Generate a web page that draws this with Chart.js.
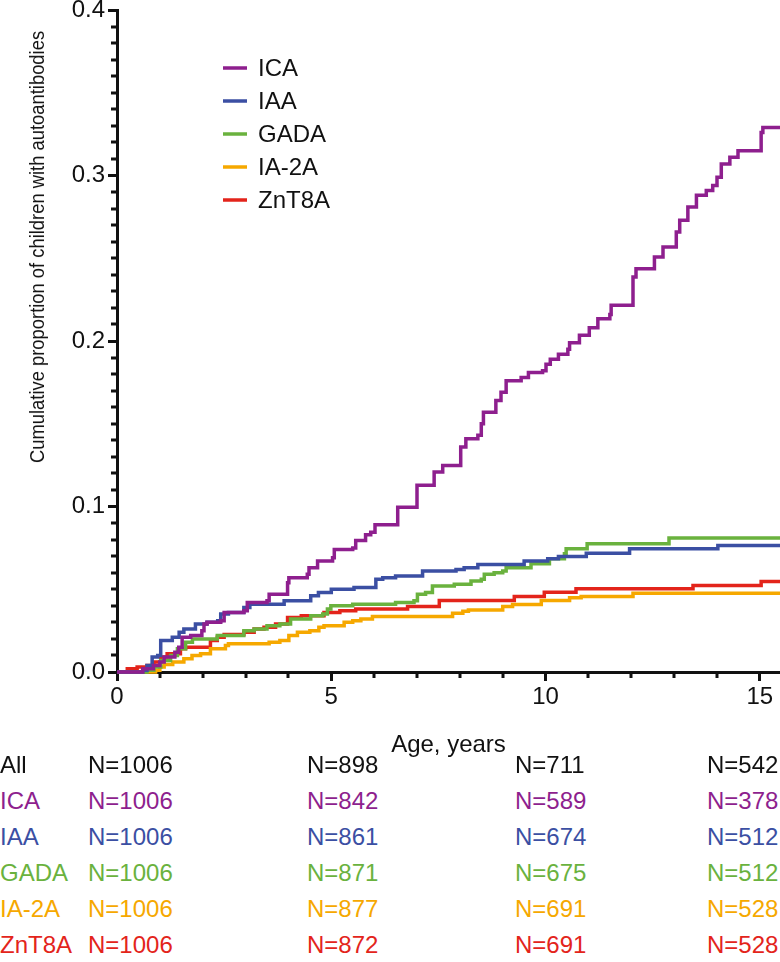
<!DOCTYPE html>
<html>
<head>
<meta charset="utf-8">
<script src="https://cdn.jsdelivr.net/npm/chart.js@4.4.0/dist/chart.umd.min.js"></script>
<style>
body{margin:0;background:#fff;font-family:"Liberation Sans",Arial,sans-serif;color:#111;}
#wrap{position:relative;width:780px;height:962px;overflow:hidden;}
#box{position:absolute;left:0;top:0;width:780px;height:760px;}
#ytitle{position:absolute;left:37px;top:247px;transform:translate(-50%,-50%) rotate(-90deg) scaleX(0.875);white-space:nowrap;font-size:21px;}
.cell{position:absolute;font-size:24px;white-space:nowrap;transform:translateY(-50%);line-height:1;}
</style>
</head>
<body>
<div id="wrap">
  <div id="box"><canvas id="kmChart"></canvas></div>
  <div id="ytitle">Cumulative proportion of children with autoantibodies</div>
  <div id="riskTable"></div>
</div>
<script>
// age (years), cumulative proportion
const ica = [[0,0],[0.6,0.002],[0.85,0.004],[1.0,0.006],[1.1,0.009],[1.35,0.012],[1.44,0.015],[1.52,0.021],[1.72,0.022],[1.98,0.025],[2.03,0.029],[2.1,0.030],[2.42,0.031],[2.5,0.036],[2.96,0.037],[3.04,0.042],[3.5,0.043],[3.55,0.047],[3.98,0.054],[4.01,0.057],[4.44,0.059],[4.48,0.063],[4.68,0.067],[5.03,0.069],[5.07,0.074],[5.5,0.075],[5.57,0.0795],[5.8,0.083],[5.92,0.0845],[6.02,0.089],[6.55,0.0996],[7.0,0.1128],[7.4,0.1208],[7.6,0.1248],[8.02,0.136],[8.14,0.141],[8.42,0.143],[8.5,0.15],[8.55,0.157],[8.84,0.164],[8.96,0.169],[9.08,0.176],[9.43,0.178],[9.6,0.181],[9.93,0.182],[10.01,0.186],[10.11,0.189],[10.3,0.192],[10.52,0.195],[10.56,0.199],[10.79,0.2035],[11.02,0.208],[11.22,0.2135],[11.5,0.216],[11.53,0.2216],[12.04,0.2387],[12.11,0.2437],[12.54,0.2508],[12.74,0.2568],[13.05,0.2659],[13.13,0.273],[13.32,0.281],[13.52,0.288],[13.75,0.291],[13.9,0.294],[14.0,0.299],[14.1,0.307],[14.3,0.311],[14.49,0.315],[15.03,0.326],[15.07,0.329],[15.47,0.329]];
const iaa = [[0,0],[0.6,0.001],[0.7,0.004],[0.82,0.009],[0.95,0.010],[1.02,0.019],[1.29,0.021],[1.45,0.024],[1.56,0.026],[1.83,0.029],[2.1,0.030],[2.35,0.031],[2.42,0.035],[2.6,0.036],[2.96,0.039],[3.1,0.041],[3.9,0.043],[4.52,0.046],[4.7,0.048],[5.0,0.050],[5.53,0.051],[6.04,0.056],[6.2,0.057],[6.5,0.058],[7.13,0.061],[7.91,0.062],[8.1,0.063],[8.42,0.065],[9.5,0.067],[10.05,0.0684],[10.3,0.0698],[10.95,0.0718],[11.96,0.0745],[14.02,0.0765],[15.47,0.0765]];
const gada = [[0,0],[0.7,0.001],[0.86,0.003],[1.02,0.007],[1.25,0.010],[1.41,0.014],[1.6,0.018],[1.76,0.020],[2.34,0.022],[2.96,0.025],[3.2,0.026],[3.5,0.028],[3.8,0.029],[4.05,0.032],[4.52,0.034],[4.8,0.035],[4.91,0.038],[4.99,0.040],[5.5,0.041],[6.5,0.042],[6.93,0.043],[7.01,0.047],[7.2,0.048],[7.36,0.052],[7.87,0.053],[8.26,0.055],[8.5,0.056],[8.57,0.059],[8.8,0.060],[9.0,0.061],[9.08,0.063],[9.66,0.0654],[10.09,0.0684],[10.44,0.0715],[10.48,0.0745],[10.97,0.0775],[12.88,0.081],[15.47,0.081]];
const ia2a = [[0,0],[0.9,0.001],[1.0,0.003],[1.1,0.0045],[1.3,0.006],[1.56,0.008],[1.75,0.010],[1.95,0.011],[2.18,0.014],[2.53,0.016],[2.6,0.017],[3.55,0.018],[3.8,0.019],[4.01,0.022],[4.21,0.024],[4.5,0.025],[4.71,0.027],[4.83,0.028],[5.3,0.030],[5.5,0.031],[5.69,0.032],[5.96,0.0335],[7.83,0.0355],[8.07,0.0367],[8.2,0.0375],[9.0,0.0396],[9.23,0.0408],[9.9,0.0432],[10.56,0.0448],[10.83,0.0456],[12.04,0.0476],[15.47,0.0476]];
const znt8a = [[0,0],[0.24,0.002],[0.47,0.003],[0.7,0.004],[0.86,0.006],[1.02,0.009],[1.17,0.011],[1.48,0.014],[1.6,0.015],[2.18,0.019],[2.34,0.021],[2.5,0.0227],[2.96,0.024],[3.2,0.026],[3.43,0.027],[3.7,0.029],[3.98,0.033],[4.3,0.034],[4.83,0.036],[5.2,0.037],[5.57,0.038],[6.78,0.0396],[7.52,0.0432],[9.27,0.0456],[9.97,0.0482],[10.71,0.0503],[13.44,0.0523],[15.03,0.0547],[15.47,0.0547]];

const seriesNames = ['ICA', 'IAA', 'GADA', 'IA-2A', 'ZnT8A'];
const seriesColors = ['#8E1F8E', '#3B4FA3', '#6AB23E', '#F6A800', '#E3241B'];

// numbers at risk at 0, 5, 10, 15 years
const riskLabels = ['All', 'ICA', 'IAA', 'GADA', 'IA-2A', 'ZnT8A'];
const nAll = [1006, 898, 711, 542];
const nIca = [1006, 842, 589, 378];
const nIaa = [1006, 861, 674, 512];
const nGada = [1006, 871, 675, 512];
const nIa2a = [1006, 877, 691, 528];
const nZnt8a = [1006, 872, 691, 528];

const minorTicks = {
    id: 'minorTicks',
    afterDraw(chart) {
        const ctx = chart.ctx, xs = chart.scales.x, ys = chart.scales.y, a = chart.chartArea;
        ctx.save();
        ctx.strokeStyle = '#111';
        ctx.lineWidth = 3;
        for (let i = 1; i < 40; i++) {
            if (i % 10 === 0) continue;
            const py = Math.round(ys.getPixelForValue(i / 100));
            ctx.beginPath(); ctx.moveTo(a.left - 6, py); ctx.lineTo(a.left, py); ctx.stroke();
        }
        for (let i = 1; i <= 15; i++) {
            if (i % 5 === 0) continue;
            const px = Math.round(xs.getPixelForValue(i));
            ctx.beginPath(); ctx.moveTo(px, a.bottom); ctx.lineTo(px, a.bottom + 6); ctx.stroke();
        }
        ctx.restore();
    }
};

const insideLegend = {
    id: 'insideLegend',
    afterDraw(chart) {
        const ctx = chart.ctx;
        ctx.save();
        ctx.font = '24px "Liberation Sans", Arial, sans-serif';
        ctx.textBaseline = 'middle';
        chart.data.datasets.forEach(function(ds, i) {
            const y = 68 + i * 33;
            ctx.strokeStyle = ds.borderColor;
            ctx.lineWidth = 3.5;
            ctx.beginPath(); ctx.moveTo(223, y); ctx.lineTo(247, y); ctx.stroke();
            ctx.fillStyle = '#111';
            ctx.fillText(ds.label, 258, y + 1);
        });
        ctx.restore();
    }
};

const allSeries = [ica, iaa, gada, ia2a, znt8a];
const datasets = allSeries.map(function(pts, i) {
    return {
        label: seriesNames[i],
        data: pts.map(function(p) { return {x: p[0], y: p[1]}; }),
        borderColor: seriesColors[i],
        borderWidth: 3.5,
        stepped: 'before',
        pointRadius: 0,
        fill: false,
        clip: 3
    };
});

const tickFont = {family: '"Liberation Sans", Arial, sans-serif', size: 24};

new Chart(document.getElementById('kmChart'), {
    type: 'line',
    data: {datasets: datasets},
    options: {
        responsive: true,
        maintainAspectRatio: false,
        animation: false,
        layout: {padding: {top: 10, right: 0, left: 0, bottom: 0}},
        plugins: {legend: {display: false}, tooltip: {enabled: false}},
        scales: {
            x: {
                type: 'linear',
                min: 0,
                max: 15.47,
                ticks: {stepSize: 5, includeBounds: false, color: '#111', font: tickFont, padding: 2, maxRotation: 0},
                grid: {drawOnChartArea: false, tickLength: 9, tickWidth: 3, color: '#111'},
                border: {width: 3, color: '#111'},
                title: {display: true, text: 'Age, years', color: '#111', font: tickFont, padding: {top: 20, bottom: 0}},
                afterFit: function(s) { s.height = 88; s.paddingLeft = 0; s.paddingRight = 0; }
            },
            y: {
                min: 0,
                max: 0.4,
                ticks: {stepSize: 0.1, color: '#111', font: tickFont, padding: 3, callback: function(v) { return v.toFixed(1); }},
                grid: {drawOnChartArea: false, tickLength: 9, tickWidth: 3, color: '#111'},
                border: {width: 3, color: '#111'},
                afterFit: function(s) { s.width = 117; s.paddingTop = 0; s.paddingBottom = 0; }
            }
        }
    },
    plugins: [minorTicks, insideLegend]
});

// risk table
const riskRows = [nAll, nIca, nIaa, nGada, nIa2a, nZnt8a];
const rowColors = ['#111'].concat(seriesColors);
const colLeft = [88, 307, 515, 707];
let html = '';
riskRows.forEach(function(row, r) {
    const top = 765 + r * 36;
    html += '<div class="cell" style="left:0;top:' + top + 'px;color:' + rowColors[r] + '">' + riskLabels[r] + '</div>';
    row.forEach(function(n, c) {
        html += '<div class="cell" style="left:' + colLeft[c] + 'px;top:' + top + 'px;color:' + rowColors[r] + '">N=' + n + '</div>';
    });
});
document.getElementById('riskTable').innerHTML = html;
</script>
</body>
</html>
